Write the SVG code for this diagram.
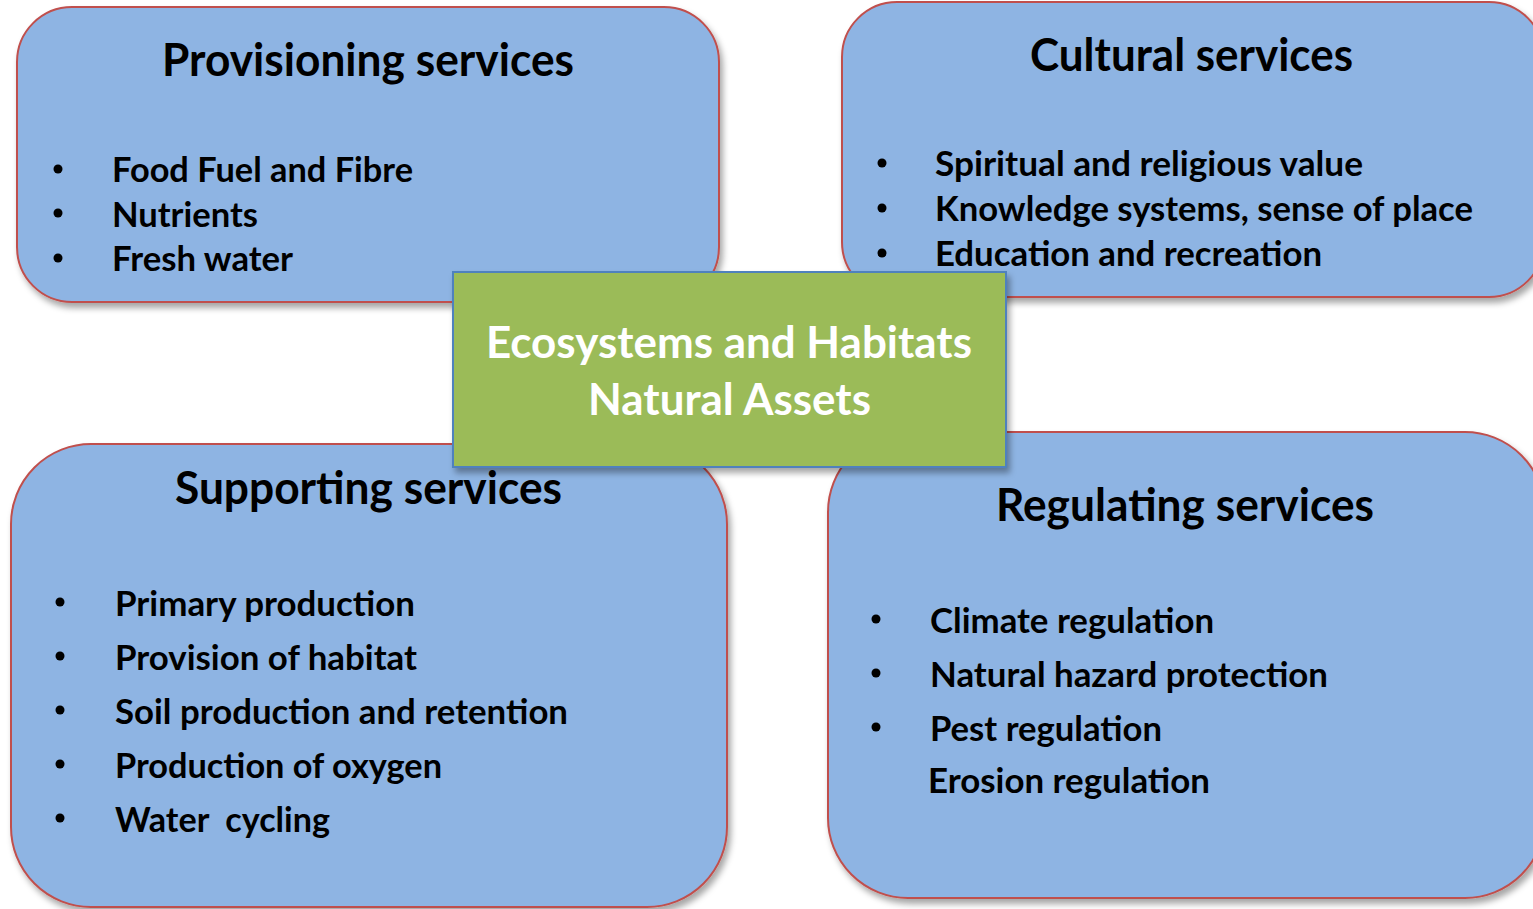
<svg xmlns="http://www.w3.org/2000/svg" width="1533" height="909" viewBox="0 0 1533 909">
<defs>
<filter id="sh" x="-10%" y="-10%" width="120%" height="130%">
<feDropShadow dx="3" dy="5" stdDeviation="3" flood-color="#000" flood-opacity="0.35"/>
</filter>
<style>
.box{fill:#8EB4E3;stroke:#C0504D;stroke-width:2;filter:url(#sh)}
.ctr{fill:#9BBB59;stroke:#4F81BD;stroke-width:2;filter:url(#sh)}
text{font-family:Lato,"Open Sans","Liberation Sans",sans-serif;font-weight:bold}
.t{font-size:45px;fill:#000}
.b{font-size:35px;fill:#000}
.c{font-size:43px;fill:#fff}
.dot{fill:#000}
</style>
</defs>
<g id="provisioning">
<rect class="box" x="17" y="7" width="702" height="295" rx="55"/>
<text class="t" x="162" y="76" textLength="412" lengthAdjust="spacingAndGlyphs">Provisioning services</text>
<circle class="dot" cx="58" cy="169" r="4.5"/>
<circle class="dot" cx="58" cy="213" r="4.5"/>
<circle class="dot" cx="58" cy="258" r="4.5"/>
<text class="b" x="112" y="182" textLength="301" lengthAdjust="spacingAndGlyphs">Food Fuel and Fibre</text>
<text class="b" x="112" y="227" textLength="146" lengthAdjust="spacingAndGlyphs">Nutrients</text>
<text class="b" x="112" y="271" textLength="181" lengthAdjust="spacingAndGlyphs">Fresh water</text>
</g>
<g id="cultural">
<rect class="box" x="842" y="2" width="702" height="295" rx="55"/>
<text class="t" x="1030" y="71" textLength="323" lengthAdjust="spacingAndGlyphs">Cultural services</text>
<circle class="dot" cx="882" cy="163" r="4.5"/>
<circle class="dot" cx="882" cy="208" r="4.5"/>
<circle class="dot" cx="882" cy="253" r="4.5"/>
<text class="b" x="935" y="176" textLength="428" lengthAdjust="spacingAndGlyphs">Spiritual and religious value</text>
<text class="b" x="935" y="221" textLength="538" lengthAdjust="spacingAndGlyphs">Knowledge systems, sense of place</text>
<text class="b" x="935" y="266" textLength="387" lengthAdjust="spacingAndGlyphs">Education and recreation</text>
</g>
<g id="supporting">
<rect class="box" x="11" y="444" width="716" height="463" rx="80"/>
<text class="t" x="175" y="504" textLength="387" lengthAdjust="spacingAndGlyphs">Supporting services</text>
<circle class="dot" cx="60" cy="602" r="4.5"/>
<circle class="dot" cx="60" cy="656" r="4.5"/>
<circle class="dot" cx="60" cy="710" r="4.5"/>
<circle class="dot" cx="60" cy="764" r="4.5"/>
<circle class="dot" cx="60" cy="818" r="4.5"/>
<text class="b" x="115" y="616" textLength="300" lengthAdjust="spacingAndGlyphs">Primary production</text>
<text class="b" x="115" y="670" textLength="302" lengthAdjust="spacingAndGlyphs">Provision of habitat</text>
<text class="b" x="115" y="724" textLength="453" lengthAdjust="spacingAndGlyphs">Soil production and retention</text>
<text class="b" x="115" y="778" textLength="327" lengthAdjust="spacingAndGlyphs">Production of oxygen</text>
<text class="b" x="115" y="832" textLength="215" lengthAdjust="spacingAndGlyphs" xml:space="preserve">Water  cycling</text>
</g>
<g id="regulating">
<rect class="box" x="828" y="432" width="717" height="466" rx="80"/>
<text class="t" x="996" y="521" textLength="378" lengthAdjust="spacingAndGlyphs">Regulating services</text>
<circle class="dot" cx="876" cy="619" r="4.5"/>
<circle class="dot" cx="876" cy="673" r="4.5"/>
<circle class="dot" cx="876" cy="727" r="4.5"/>
<text class="b" x="930" y="633" textLength="284" lengthAdjust="spacingAndGlyphs">Climate regulation</text>
<text class="b" x="930" y="687" textLength="398" lengthAdjust="spacingAndGlyphs">Natural hazard protection</text>
<text class="b" x="930" y="741" textLength="232" lengthAdjust="spacingAndGlyphs">Pest regulation</text>
<text class="b" x="928" y="793" textLength="282" lengthAdjust="spacingAndGlyphs">Erosion regulation</text>
</g>
<g id="center">
<rect class="ctr" x="453" y="272" width="553" height="195"/>
<text class="c" x="486" y="358" textLength="486" lengthAdjust="spacingAndGlyphs">Ecosystems and Habitats</text>
<text class="c" x="588" y="415" textLength="283" lengthAdjust="spacingAndGlyphs">Natural Assets</text>
</g>
</svg>
